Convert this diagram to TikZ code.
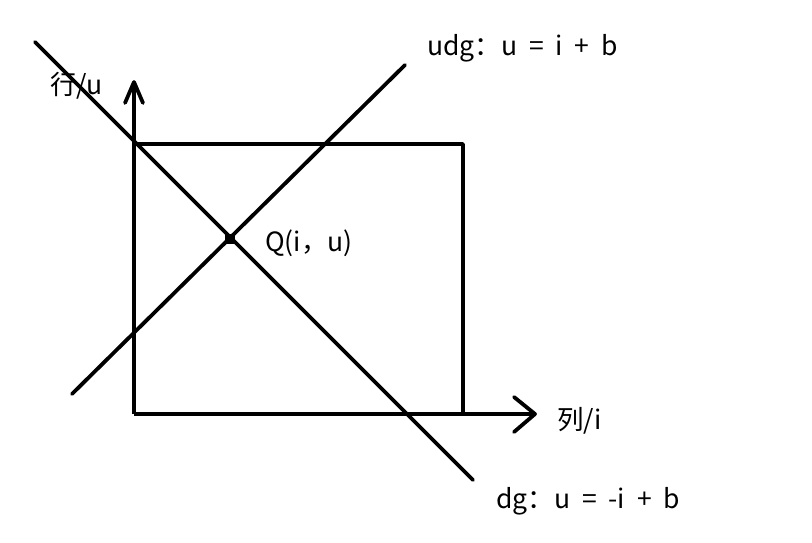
\documentclass[tikz,border=0pt]{standalone}
\usepackage{fontspec}
\setmainfont{Noto Sans CJK SC}
\newcommand{\gp}{\hspace{0.45em}}
\begin{document}
\begin{tikzpicture}[x=1pt,y=-1pt,
  ln/.style={line width=3.8pt,line cap=round,line join=round},
  lbl/.style={font=\fontsize{26.5}{31}\selectfont,anchor=west,inner sep=0pt}]
\useasboundingbox[fill=white] (0,0) rectangle (812,543);
% rectangle corners
\coordinate (O) at (134,414);
\coordinate (TL) at (134,144);
\coordinate (TR) at (463,144);
\coordinate (BR) at (463,414);
\coordinate (Ytip) at (134,82);
\coordinate (Xtip) at (535,414);
\draw[ln,line cap=butt] (TL) -- (TR) -- (BR);
\draw[ln,line cap=butt] (O) -- (Ytip);
\draw[ln,line cap=butt] (O) -- (Xtip);
% arrowheads
\draw[ln] (125,103) -- (Ytip) -- (143,103);
\draw[ln] (514,397) -- (Xtip) -- (514,432);
% diagonals
\coordinate (d1) at (35,42);
\coordinate (d2) at (473,480);
\coordinate (u1) at (72,394);
\coordinate (u2) at (405,65);
\draw[ln] (d1) -- (d2);
\draw[ln] (u1) -- (u2);
% point Q
\node[fill=black,minimum size=10pt,inner sep=0pt] (Q) at (230,239) {};
% labels
\node[lbl] (ylab) at (50,86) {行/u};
\node[lbl] (udg) at (427,48) {udg：u\gp=\gp i\gp+\gp b};
\node[lbl] (qlab) at (265,243) {Q(i，u)};
\node[lbl] (xlab) at (557,421) {列/i};
\node[lbl] (dg) at (496,501) {dg：u\gp=\gp -i\gp+\gp b};
\end{tikzpicture}
\end{document}
